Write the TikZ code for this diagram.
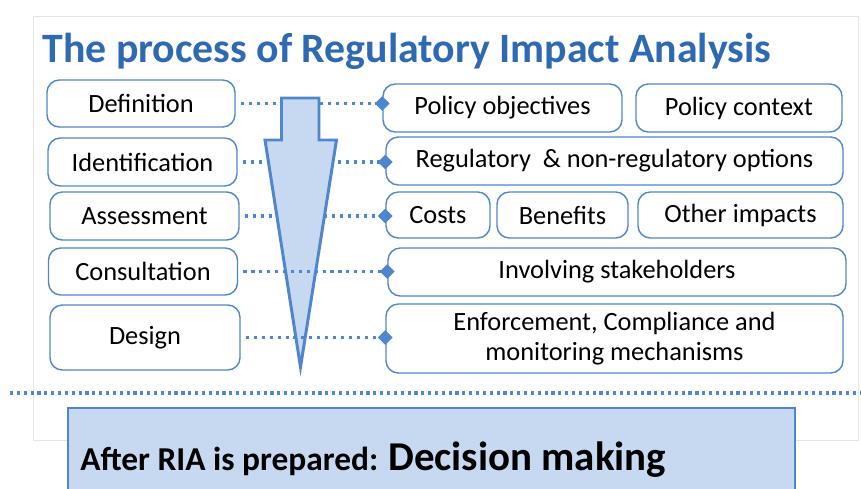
\documentclass[tikz,border=0pt]{standalone}
\usepackage{fontspec}
\setmainfont{Carlito}
\usetikzlibrary{shapes.geometric, positioning}

\definecolor{riablue}{HTML}{2E69B3}
\definecolor{rialine}{HTML}{4F86CE}
\definecolor{riafill}{HTML}{C6D9F1}

\begin{document}
\begin{tikzpicture}[
    stage/.style={rectangle, rounded corners=7pt, draw=rialine, line width=0.8pt, fill=white, minimum width=3.78cm, minimum height=0.96cm, align=center, font=\fontsize{15}{17}\selectfont},
    item/.style={rectangle, rounded corners=7pt, draw=rialine, line width=0.8pt, fill=white, minimum height=0.96cm, align=center, font=\fontsize{15}{17.5}\selectfont},
    dotline/.style={rialine, line width=1.8pt, dash pattern=on 1.8pt off 2.7pt, shorten <=3pt},
    tipmark/.style={diamond, fill=rialine, inner sep=0pt, minimum size=0.32cm},
    title/.style={font=\fontsize{23.8}{28}\selectfont\bfseries, text=riablue}
  ]
  \clip (0,0) rectangle (17.22,-9.78);

  % Slide frame
  \draw[black!10, line width=0.5pt] (0.66,-0.32) rectangle (17.16,-8.80);

  % Title
  \node[title, anchor=base west, inner sep=0pt] (head) at (0.84,-1.24) {The process of Regulatory Impact Analysis};

  % Process stages (left)
  \node[stage, minimum width=3.76cm, minimum height=0.94cm] (def) at (2.82,-2.07) {Definition};
  \node[stage] (ident) at (2.85,-3.24) {Identification};
  \node[stage] (assess) at (2.89,-4.32) {Assessment};
  \node[stage, minimum height=0.94cm] (consult) at (2.86,-5.43) {Consultation};
  \node[stage, minimum width=3.8cm, minimum height=1.3cm] (design) at (2.90,-6.75) {Design};

  % Contents (right)
  \node[item, minimum width=4.78cm] (obj) at (10.05,-2.16) {Policy objectives};
  \node[item, minimum width=4.12cm] (ctx) at (14.78,-2.16) {Policy context};
  \node[item, minimum width=9.14cm] (opt) at (12.29,-3.22) {Regulatory~ \& non-regulatory options};
  \node[item, minimum width=2.08cm, minimum height=0.92cm] (cost) at (8.76,-4.30) {Costs};
  \node[item, minimum width=2.62cm, minimum height=0.92cm] (ben) at (11.25,-4.30) {Benefits};
  \node[item, minimum width=4.10cm, minimum height=0.92cm] (other) at (14.81,-4.30) {Other impacts};
  \node[item, minimum width=9.16cm] (invol) at (12.34,-5.44) {Involving stakeholders};
  \node[item, minimum width=9.14cm, minimum height=1.38cm] (enf) at (12.29,-6.77) {Enforcement, Compliance and\\monitoring mechanisms};

  % Dotted links behind the arrow
  \foreach \a/\b in {def/obj, ident/opt, assess/cost} {
      \draw[dotline] (\a.east) -- (\a.east -| \b.west) node[tipmark] {};
    }

  % Funnel arrow
  \draw[rialine, line width=1.7pt, fill=riafill, line join=miter]
    (5.63,-1.96) -- (6.38,-1.96) -- (6.38,-2.80) -- (6.73,-2.80)
    -- (6.01,-7.34) -- (5.30,-2.80) -- (5.63,-2.80) -- cycle;

  % Dotted links over the arrow
  \foreach \a/\b in {consult/invol, design/enf} {
      \draw[dotline] (\a.east) -- (\a.east -| \b.west) node[tipmark] {};
    }

  % Separator line
  \draw[rialine, line width=1.8pt, dash pattern=on 1.8pt off 2.1pt] (0.2,-7.86) -- (17.22,-7.86);

  % Decision box
  \draw[rialine, line width=1.2pt, fill=riafill] (1.36,-8.16) rectangle (15.90,-10.2);
  \node[anchor=base west, inner sep=0pt] (after) at (1.60,-9.40)
    {\fontsize{19}{21}\selectfont\bfseries After RIA is prepared: \fontsize{23.3}{26}\selectfont Decision making};
\end{tikzpicture}
\end{document}
